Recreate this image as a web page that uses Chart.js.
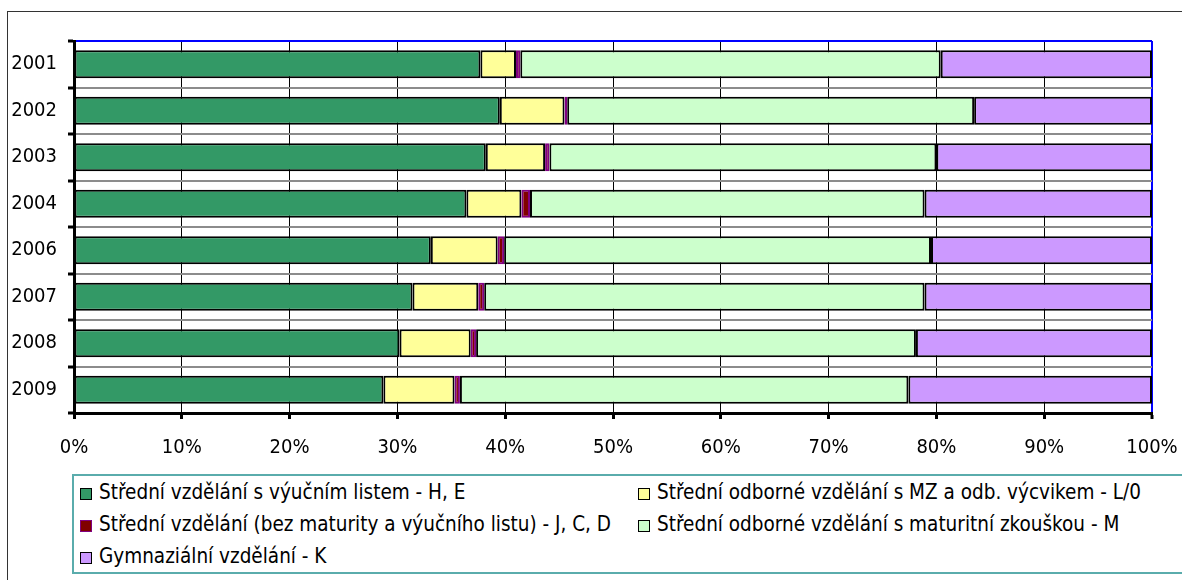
<!DOCTYPE html>
<html>
<head>
<meta charset="utf-8">
<script src="https://cdn.jsdelivr.net/npm/chart.js@4/dist/chart.umd.min.js"></script>
<style>
  body { margin: 0; background: #fff; overflow: hidden; }
  #wrap { position: relative; width: 1182px; height: 580px; }
  #frame { position: absolute; left: 7px; top: 11px; width: 1200px; height: 600px; border-left: 1px solid #333; border-top: 1px solid #333; }
  #chart { position: absolute; left: 0; top: 0; }
  #legend {
    position: absolute; left: 72px; top: 474px; width: 1200px; height: 96px;
    border: 2px solid #5aacac; background: #fff;
    font-family: "DejaVu Sans Condensed", "DejaVu Sans", sans-serif; font-size: 20.5px; color: #000;
  }
  .item { position: absolute; white-space: nowrap; line-height: 20px; }
  .box { display: inline-block; width: 10px; height: 10px; border: 1.5px solid #000; margin-right: 7px; vertical-align: -1px; }
</style>
</head>
<body>
<div id="wrap">
  <div id="frame"></div>
  <canvas id="chart" width="1182" height="580"></canvas>
  <div id="legend"></div>
</div>
<script>
// roky (kategorie)
const years = ["2001", "2002", "2003", "2004", "2006", "2007", "2008", "2009"];
// podíly v %
const vyucniList = [37.7, 39.5, 38.2, 36.4, 33.1, 31.4, 30.2, 28.7];
const odbVycvik = [3.3, 6.0, 5.5, 5.1, 6.2, 6.1, 6.6, 6.6];
const bezMaturity = [0.4, 0.25, 0.4, 0.8, 0.6, 0.55, 0.5, 0.5];
const maturita = [39.0, 37.75, 35.9, 36.6, 39.6, 40.85, 40.8, 41.6];
const gymnazium = [19.6, 16.5, 20.0, 21.1, 20.5, 21.1, 21.9, 22.6];
const xTicks = [0, 10, 20, 30, 40, 50, 60, 70, 80, 90, 100];

const fontFamily = '"DejaVu Sans Condensed", "DejaVu Sans", sans-serif';

function ds(label, data, fill, border) {
  return {
    label: label,
    data: data,
    backgroundColor: fill,
    borderColor: border || "#000",
    borderWidth: 2,
    borderSkipped: false,
    barPercentage: 0.6,
    categoryPercentage: 1.0,
  };
}

const chart = new Chart(document.getElementById("chart"), {
  type: "bar",
  data: {
    labels: years,
    datasets: [
      ds("Střední vzdělání s výučním listem - H, E", vyucniList, "#339966"),
      ds("Střední odborné vzdělání s MZ a odb. výcvikem - L/0", odbVycvik, "#ffff99"),
      ds("Střední vzdělání (bez maturity a výučního listu) - J, C, D", bezMaturity, "#800000", "#800080"),
      ds("Střední odborné vzdělání s maturitní zkouškou - M", maturita, "#ccffcc"),
      ds("Gymnaziální vzdělání - K", gymnazium, "#cc99ff"),
    ],
  },
  options: {
    indexAxis: "y",
    responsive: false,
    animation: false,
    layout: { padding: { left: 0, right: 30, top: 41, bottom: 0 } },
    plugins: { legend: { display: false }, tooltip: { enabled: false } },
    scales: {
      x: {
        stacked: true,
        min: 0,
        max: 100,
        afterFit: (s) => { s.height = 167; s.paddingLeft = 0; s.paddingRight = 0; },
        afterBuildTicks: (s) => { s.ticks = xTicks.map((v) => ({ value: v })); },
        ticks: {
          callback: (v) => v + "%",
          color: "#000",
          padding: 17,
          maxRotation: 0,
          font: { family: fontFamily, size: 20 },
        },
        grid: {
          color: (ctx) => (ctx.tick && ctx.tick.value === 100 ? "#0000ff" : "#000"),
          lineWidth: (ctx) => (ctx.tick && ctx.tick.value === 100 ? 2 : 1),
          tickColor: "#000",
          tickWidth: 3,
          tickLength: 6,
        },
        border: { color: "#000", width: 3 },
      },
      y: {
        stacked: true,
        afterFit: (s) => { s.width = 74; },
        ticks: {
          color: "#000",
          padding: 11,
          font: { family: fontFamily, size: 20 },
        },
        grid: {
          offset: true,
          color: (ctx) => (ctx.index === 0 ? "#0000ff" : "#8c8c8c"),
          lineWidth: 2,
          tickColor: "#000",
          tickWidth: 3,
          tickLength: 6,
        },
        border: { color: "#000", width: 3 },
      },
    },
  },
});

// legenda ve dvou sloupcích jako v Excelu
const legend = document.getElementById("legend");
const colX = [6, 564];
const rowY = [6, 38, 70];
chart.data.datasets.forEach((d, i) => {
  const item = document.createElement("div");
  item.className = "item";
  item.style.left = colX[i % 2] + "px";
  item.style.top = rowY[Math.floor(i / 2)] + "px";
  item.innerHTML = `<span class="box" style="background:${d.backgroundColor};border-color:${d.label.includes("(bez") ? "#800080" : "#000"}"></span>${d.label}`;
  legend.appendChild(item);
});
</script>
</body>
</html>
